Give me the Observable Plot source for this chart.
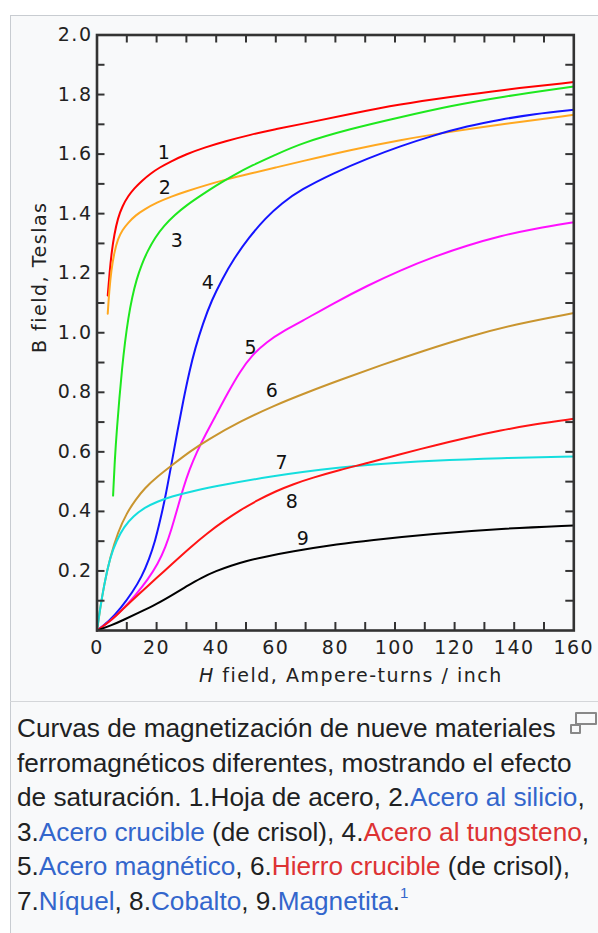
<!DOCTYPE html>
<html><head><meta charset="utf-8">
<script src="https://cdn.jsdelivr.net/npm/d3@7"></script>
<script src="https://cdn.jsdelivr.net/npm/@observablehq/plot@0.6"></script>
<style>
html,body{margin:0;padding:0;background:#fff;}
body{width:598px;height:933px;overflow:hidden;position:relative;}
#box{position:absolute;left:10px;top:15px;width:600px;height:930px;border-top:1px solid #c8ccd1;border-left:1px solid #c8ccd1;background:#f8f9fa;}
#sep{position:absolute;left:10px;top:701px;width:600px;height:0;border-top:1px solid #d4d6d9;}
#chart{position:absolute;left:0;top:0;}
#chart svg text{letter-spacing:1.5px;}
#caption{position:absolute;left:17px;top:711px;font-family:"Liberation Sans",Arial,sans-serif;font-size:26.2px;line-height:34.6px;color:#202122;white-space:nowrap;}
#caption .b{color:#3366cc}
#caption .r{color:#dd3333}
#caption sup{font-size:15px;line-height:0;vertical-align:12px;color:#3366cc}
.mag1{position:absolute;left:575px;top:712px;width:22px;height:13px;border:2px solid #888;box-sizing:border-box;border-radius:1px;}
.mag2{position:absolute;left:570px;top:724px;width:11px;height:10px;border:2px solid #888;box-sizing:border-box;background:#f8f9fa;border-radius:1px;}
</style>
</head><body>
<div id="box"></div>
<div id="sep"></div>
<div id="chart"></div>
<div class="mag1"></div><div class="mag2"></div>
<div id="caption">Curvas de magnetización de nueve materiales<br>ferromagnéticos diferentes, mostrando el efecto<br>de saturación. 1.Hoja de acero, 2.<span class="b">Acero al silicio</span>,<br>3.<span class="b">Acero crucible</span> (de crisol), 4.<span class="r">Acero al tungsteno</span>,<br>5.<span class="b">Acero magnético</span>, 6.<span class="r">Hierro crucible</span> (de crisol),<br>7.<span class="b">Níquel</span>, 8.<span class="b">Cobalto</span>, 9.<span class="b">Magnetita</span>.<sup>1</sup></div>
<script>
// H field (Ampere-turns / inch) and B field (Teslas)
const sheetSteel = [[3.6,1.125],[4.2,1.2],[4.9,1.27],[5.8,1.33],[7,1.385],[8.5,1.425],[10.5,1.46],[12.5,1.485],[15,1.51],[18,1.535],[21,1.555],[24.7,1.575],[30,1.60],[36,1.622],[43,1.643],[51.5,1.665],[60,1.684],[68.3,1.70],[85,1.735],[101.8,1.768],[118.6,1.792],[135.4,1.815],[160,1.842]];
const siliconSteel = [[3.6,1.064],[4.1,1.14],[4.8,1.21],[5.8,1.27],[7,1.315],[8.5,1.345],[10.5,1.37],[13,1.395],[16,1.415],[20,1.437],[25,1.458],[30,1.475],[36,1.494],[43,1.514],[51.5,1.535],[60,1.555],[68.3,1.575],[85,1.614],[101.8,1.648],[118.6,1.675],[135.4,1.70],[160,1.732]];
const crucibleSteel = [[5.4,0.453],[6.0,0.58],[6.7,0.68],[7.5,0.78],[8.4,0.88],[9.4,0.97],[10.5,1.05],[11.8,1.12],[13.3,1.18],[15,1.23],[17,1.275],[19.5,1.32],[22.5,1.36],[26,1.395],[30,1.428],[34.7,1.46],[40,1.495],[46,1.53],[52,1.562],[60,1.598],[68.3,1.636],[85,1.685],[101.8,1.724],[118.6,1.762],[135.4,1.792],[160,1.827]];
const tungstenSteel = [[0,0],[4,0.03],[8,0.075],[12,0.13],[15,0.18],[17.5,0.24],[19.5,0.3],[21.2,0.37],[23,0.45],[25,0.56],[27,0.67],[29,0.775],[31,0.87],[33,0.95],[35.5,1.03],[38.5,1.11],[42,1.18],[46,1.25],[51,1.32],[56.5,1.385],[62,1.435],[68.3,1.48],[79.5,1.537],[90.7,1.585],[101.8,1.627],[113,1.663],[124.2,1.694],[135.4,1.716],[146.6,1.735],[160,1.749]];
const magnetSteel = [[0,0],[5,0.035],[9,0.075],[13,0.12],[17,0.17],[20.5,0.225],[23,0.28],[25,0.34],[27,0.41],[29,0.48],[31,0.54],[33.5,0.6],[36.5,0.66],[40,0.725],[44,0.80],[48,0.87],[52,0.925],[57,0.97],[62.5,1.005],[68.3,1.036],[79.5,1.10],[90.7,1.158],[101.8,1.21],[113,1.255],[124.2,1.293],[135.4,1.325],[147,1.35],[160,1.371]];
const crucibleIron = [[0,0],[1,0.07],[2.3,0.15],[4.5,0.25],[7,0.33],[10,0.395],[13,0.44],[16,0.478],[20,0.515],[25.8,0.56],[31,0.6],[37,0.64],[48.2,0.703],[59.3,0.755],[70.5,0.80],[81.7,0.842],[95,0.89],[109.7,0.94],[125,0.988],[140,1.028],[160,1.066]];
const nickel = [[0,0],[1,0.07],[2.3,0.15],[4.5,0.25],[6.5,0.30],[9,0.348],[12.3,0.385],[16,0.413],[20.2,0.433],[25,0.45],[31.4,0.467],[42.6,0.49],[59.3,0.519],[68.3,0.532],[81.7,0.548],[90.7,0.557],[113,0.571],[135.4,0.579],[160,0.584]];
const cobalt = [[0,0],[5,0.035],[9,0.075],[14,0.122],[20.2,0.178],[25,0.222],[31.4,0.28],[37,0.327],[42.6,0.368],[48,0.404],[53.8,0.437],[60,0.468],[66,0.492],[72,0.512],[81.7,0.54],[90.7,0.562],[101.8,0.592],[113,0.621],[124.2,0.648],[135.4,0.672],[147,0.693],[160,0.711]];
const magnetite = [[0,0],[5,0.018],[9,0.036],[14,0.06],[20.2,0.09],[25,0.118],[30,0.148],[35,0.177],[40,0.2],[45,0.218],[50,0.233],[55,0.245],[64.9,0.265],[81.7,0.291],[90.7,0.302],[113,0.325],[135.4,0.342],[160,0.353]];

const curveNames = ["1","2","3","4","5","6","7","8","9"];
// label anchor points (H, B) for each curve number
const labelH = [22.65,23.0,27.0,37.4,51.8,58.9,62.2,65.6,69.3];
const labelB = [1.605,1.488,1.31,1.169,0.95,0.806,0.564,0.433,0.309];

const xTickLabels = [0,20,40,60,80,100,120,140,160];
const xMinorTicks = [10,20,30,40,50,60,70,80,90,100,110,120,130,140,150];
const yTickLabels = [0.2,0.4,0.6,0.8,1.0,1.2,1.4,1.6,1.8,2.0];
const yMinorTicks = [0.1,0.2,0.3,0.4,0.5,0.6,0.7,0.8,0.9,1.0,1.1,1.2,1.3,1.4,1.5,1.6,1.7,1.8,1.9];
const xLabel = "H field, Ampere-turns / inch";
const yLabel = "B field, Teslas";

const series = [sheetSteel, siliconSteel, crucibleSteel, tungstenSteel, magnetSteel, crucibleIron, nickel, cobalt, magnetite];
const colors = ["#ff0000","#ffa820","#1ee81e","#1414ff","#ff10ff","#c9952f","#14dede","#ff1414","#000000"];

const W = 598, H = 702;
const mL = 96.5, mR = 24.7, mT = 34.5, mB = 72;
const plotW = W - mL - mR, plotH = H - mT - mB;
const tick = 8, axisColor = "#333";

const marks = [];
series.forEach((s, i) => {
  marks.push(Plot.line(s, {x: d => d[0], y: d => d[1], stroke: colors[i], strokeWidth: 2, curve: "basis"}));
});
const labels = curveNames.map((n, i) => ({n, h: labelH[i], b: labelB[i]}));
marks.push(Plot.text(labels, {x: "h", y: "b", text: "n", fontSize: 19, fill: "#111", lineAnchor: "middle", textAnchor: "middle"}));
// inward ticks on all four sides
marks.push(Plot.tickX(xMinorTicks, {x: d => d, insetBottom: plotH - tick, stroke: axisColor, strokeWidth: 2}));
marks.push(Plot.tickX(xMinorTicks, {x: d => d, insetTop: plotH - tick, stroke: axisColor, strokeWidth: 2}));
marks.push(Plot.tickY(yMinorTicks, {y: d => d, insetRight: plotW - tick, stroke: axisColor, strokeWidth: 2}));
marks.push(Plot.tickY(yMinorTicks, {y: d => d, insetLeft: plotW - tick, stroke: axisColor, strokeWidth: 2}));
marks.push(Plot.frame({stroke: axisColor, strokeWidth: 2.6}));
marks.push(Plot.axisX(xTickLabels, {anchor: "bottom", tickSize: 0, tickPadding: 10, fontSize: 19, fill: "#222", label: null}));
marks.push(Plot.axisY(yTickLabels, {anchor: "left", tickSize: 0, tickPadding: 4.5, fontSize: 19, fill: "#222", label: null, tickFormat: d => d.toFixed(1)}));
marks.push(Plot.text([xLabel], {frameAnchor: "bottom", dx: 15.5, dy: 45, fontSize: 19, fill: "#222", lineAnchor: "middle", textAnchor: "middle"}));
marks.push(Plot.text([yLabel], {frameAnchor: "left", rotate: -90, dx: -57.5, dy: -55.5, fontSize: 19, fill: "#222", lineAnchor: "middle", textAnchor: "middle"}));

const chart = Plot.plot({
  width: W, height: H,
  marginLeft: mL, marginRight: mR, marginTop: mT, marginBottom: mB,
  x: {domain: [0, 160]},
  y: {domain: [0, 2]},
  style: {background: "transparent", fontFamily: "DejaVu Sans", fontSize: "19px", overflow: "visible"},
  marks
});
chart.querySelectorAll("text").forEach(t => {
  if (t.textContent === xLabel) {
    t.innerHTML = '<tspan font-style="italic">H</tspan> field, Ampere-turns / inch';
  }
});
document.getElementById("chart").appendChild(chart);
</script>
</body></html>
